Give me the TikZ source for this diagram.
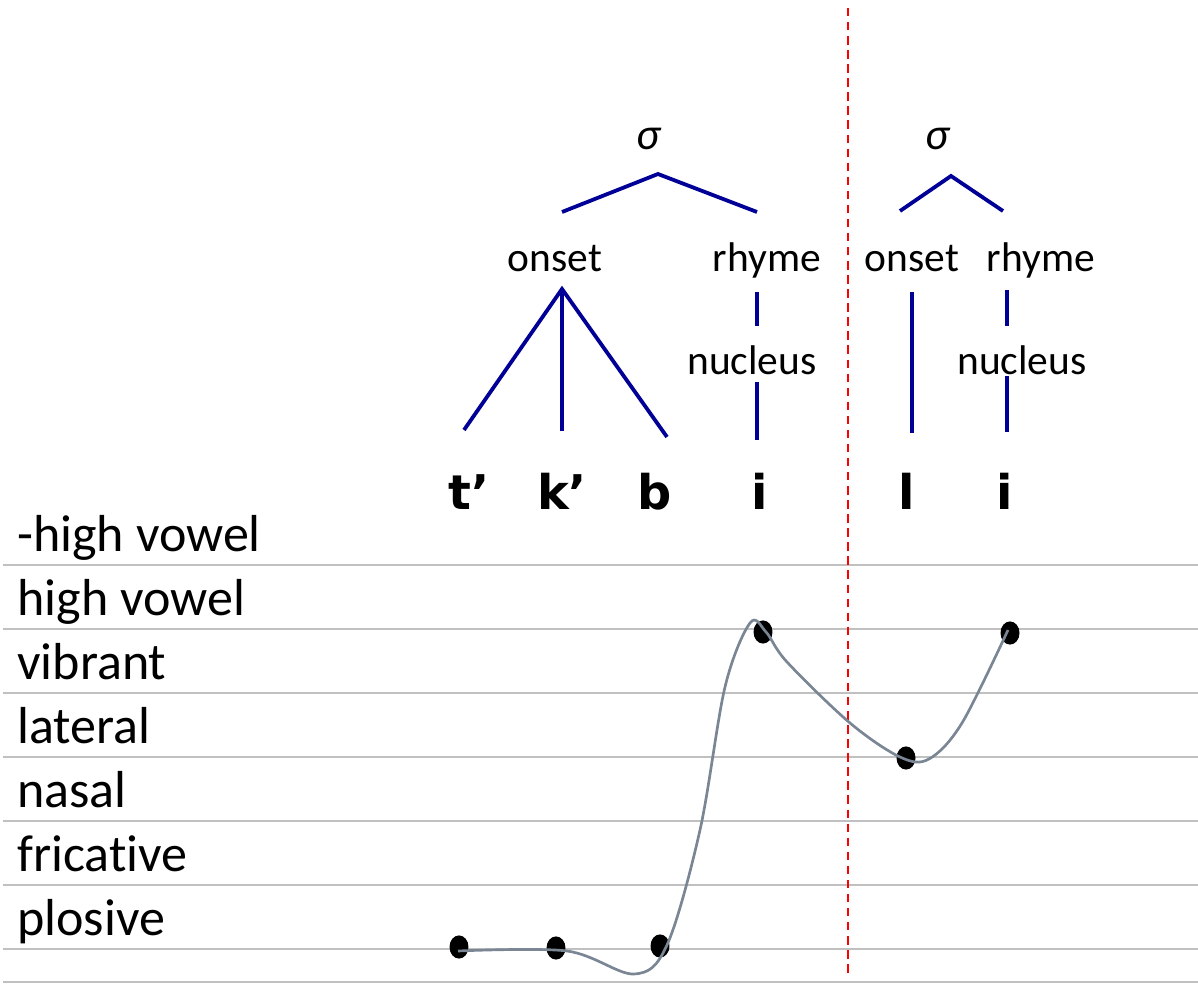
\documentclass[tikz,border=0pt]{standalone}
\usepackage{fontspec}
\setmainfont{Carlito}[Ligatures=NoCommon]
\newfontfamily\segfont{DejaVu Sans}
\usetikzlibrary{shapes.geometric}

\definecolor{treeblue}{RGB}{0,0,150}
\definecolor{rulegrey}{RGB}{192,192,192}
\definecolor{curvegrey}{RGB}{122,134,148}

\begin{document}
\begin{tikzpicture}[x=0.025cm, y=-0.025cm,
    feat/.style={anchor=base west, inner sep=0pt, font=\fontsize{37}{40}\selectfont},
    tree/.style={anchor=base, inner sep=0pt, font=\fontsize{29.5}{32}\selectfont},
    seg/.style={anchor=base, inner sep=0pt, font=\segfont\bfseries\fontsize{34}{36}\selectfont},
    branch/.style={treeblue, line width=2.7pt},
    dot/.style={ellipse, fill=black, inner sep=0pt, minimum width=13.5pt, minimum height=16.5pt}]
    \useasboundingbox (0,0) rectangle (1198,984);

    % Линейки шкалы сонорности
    \foreach \y in {565,629,693,757,821,885,949,982}
        \draw[rulegrey, line width=1.9pt] (3,\y) -- (1198,\y);

    % Подписи уровней
    \node[feat] (lowhigh) at (17,551) {-high vowel};
    \node[feat] (high) at (17,615) {high vowel};
    \node[feat] (vib) at (17,679) {vibrant};
    \node[feat] (lat) at (17,743) {lateral};
    \node[feat] (nas) at (17,807) {nasal};
    \node[feat] (fric) at (17,871) {fricative};
    \node[feat] (plos) at (17,935) {plosive};

    % Граница слогов
    \draw[red, line width=1pt, dash pattern=on 6pt off 4pt] (848,8) -- (848,978);

    % Первый слог
    \node[tree, font=\itshape\fontsize{32}{34}\selectfont] (sigA) at (648,150) {σ};
    \node[tree] (onsA) at (555,272) {onset};
    \node[tree] (rhyA) at (767,272) {rhyme};
    \node[tree] (nucA) at (752,374) {nucleus};
    \coordinate (apA) at (658,174);
    \coordinate (brA1) at (562,212);
    \coordinate (brA2) at (757,212);
    \draw[branch] (brA1) -- (apA) -- (brA2);
    \coordinate (apO) at (562,289);
    \coordinate (lfT) at (464,430);
    \coordinate (lfK) at (562,431);
    \coordinate (lfB) at (667,437);
    \draw[branch] (lfT) -- (apO) -- (lfB);
    \draw[branch] (apO) -- (lfK);
    \coordinate (rA1) at (757,292);
    \coordinate (rA2) at (757,326);
    \coordinate (nA1) at (757,382);
    \coordinate (nA2) at (757,440);
    \draw[branch] (rA1) -- (rA2);
    \draw[branch] (nA1) -- (nA2);

    % Второй слог
    \node[tree, font=\itshape\fontsize{32}{34}\selectfont] (sigB) at (937,150) {σ};
    \node[tree] (onsB) at (912,272) {onset};
    \node[tree] (rhyB) at (1041,272) {rhyme};
    \node[tree] (nucB) at (1022,374) {nucleus};
    \coordinate (apB) at (951,176);
    \coordinate (brB1) at (900,211);
    \coordinate (brB2) at (1003,211);
    \draw[branch] (brB1) -- (apB) -- (brB2);
    \coordinate (oB1) at (912,292);
    \coordinate (oB2) at (912,433);
    \draw[branch] (oB1) -- (oB2);
    \coordinate (rB1) at (1007,290);
    \coordinate (rB2) at (1007,326);
    \coordinate (nB1) at (1007,376);
    \coordinate (nB2) at (1007,432);
    \draw[branch] (rB1) -- (rB2);
    \draw[branch] (nB1) -- (nB2);

    % Сегменты
    \node[seg] (segT) at (469,509) {t’};
    \node[seg] (segK) at (562,509) {k’};
    \node[seg] (segB) at (655,509) {b};
    \node[seg] (segI) at (760,509) {i};
    \node[seg] (segL) at (907,509) {l};
    \node[seg] (segJ) at (1005,509) {i};

    % Точки сонорности
    \node[dot] (p1) at (459,947) {};
    \node[dot] (p2) at (556,948) {};
    \node[dot] (p3) at (660,946) {};
    \node[dot] (p4) at (763,632) {};
    \node[dot] (p5) at (906,758) {};
    \node[dot] (p6) at (1010,633) {};

    % Кривая
    \draw[curvegrey, line width=1.9pt] plot[smooth, tension=0.55] coordinates {
        (458,951) (567,951) (634,974) (667,945) (700,830) (725,687)
        (750,623) (766,632) (787,662) (850,723) (900,757) (929,759)
        (962,723) (1008,630)};
\end{tikzpicture}
\end{document}
